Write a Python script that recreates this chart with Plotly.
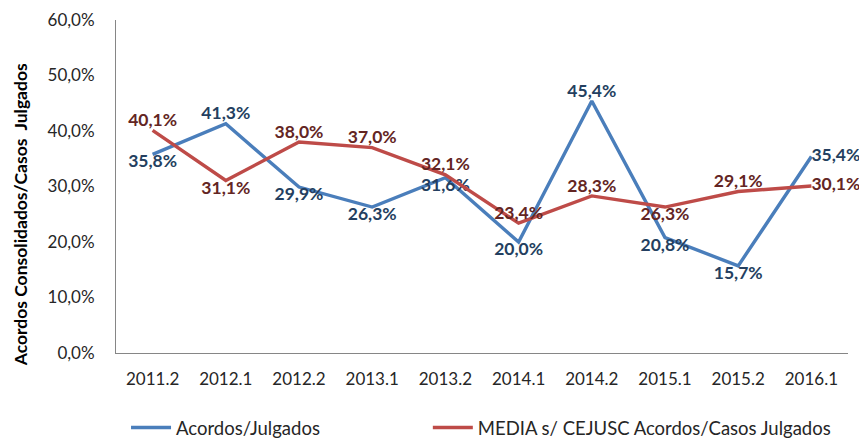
import plotly.graph_objects as go

categories = ["2011.2", "2012.1", "2012.2", "2013.1", "2013.2", "2014.1", "2014.2", "2015.1", "2015.2", "2016.1"]
acordos = [35.8, 41.3, 29.9, 26.3, 31.6, 20.0, 45.4, 20.8, 15.7, 35.4]
media = [40.1, 31.1, 38.0, 37.0, 32.1, 23.4, 28.3, 26.3, 29.1, 30.1]

pos_acordos = ["bottom center", "top center", "bottom center", "bottom center", "bottom center",
               "bottom center", "top center", "bottom center", "bottom center", "middle right"]
pos_media = ["top center", "bottom center", "top center", "top center", "top center",
             "top center", "top center", "bottom center", "top center", "middle right"]

def fmt(v):
    return f"{v:.1f}".replace(".", ",") + "%"

FONT = "Lato"

fig = go.Figure()
fig.add_trace(go.Scatter(
    x=categories, y=[v / 100 for v in acordos], name="Acordos/Julgados",
    mode="lines+text", text=[fmt(v) for v in acordos], textposition=pos_acordos,
    line=dict(color="#4A7EBB", width=3.4),
    textfont=dict(family=FONT, size=17.5, color="#243F60", weight="bold"),
    cliponaxis=False, legend="legend",
))
fig.add_trace(go.Scatter(
    x=categories, y=[v / 100 for v in media], name="MEDIA s/ CEJUSC Acordos/Casos Julgados",
    mode="lines+text", text=[fmt(v) for v in media], textposition=pos_media,
    line=dict(color="#BE4B48", width=3.4),
    textfont=dict(family=FONT, size=17.5, color="#632523", weight="bold"),
    cliponaxis=False, legend="legend2",
))

legend_font = dict(family=FONT, size=18.5, color="#262626")

fig.update_layout(
    width=859, height=430,
    margin=dict(l=108, r=19, t=12, b=85, autoexpand=False),
    paper_bgcolor="white", plot_bgcolor="white",
    separators=",.",
    font=dict(family=FONT, size=17, color="#262626"),
    showlegend=True,
    legend=dict(orientation="h", x=0.0137, xanchor="left", y=-0.225, yanchor="middle",
                font=legend_font, itemwidth=40, bgcolor="rgba(0,0,0,0)"),
    legend2=dict(orientation="h", x=0.426, xanchor="left", y=-0.225, yanchor="middle",
                 font=legend_font, itemwidth=40, bgcolor="rgba(0,0,0,0)"),
    xaxis=dict(type="category", range=[-0.5, 9.5], showline=True, linecolor="#868686",
               linewidth=1, showgrid=False, zeroline=False, ticks="",
               ticklabelstandoff=11, tickfont=dict(family=FONT, size=17, color="#262626")),
    yaxis=dict(range=[0, 0.6], dtick=0.1, tickformat=".1%", showline=True,
               linecolor="#868686", linewidth=1, showgrid=False, zeroline=False,
               ticks="", ticklabelstandoff=17,
               tickfont=dict(family=FONT, size=17, color="#262626")),
    annotations=[dict(text="Acordos Consolidados/Casos  Julgados", xref="paper", yref="paper",
                      x=-0.131, y=0.414, xanchor="center", yanchor="middle", textangle=-90,
                      showarrow=False,
                      font=dict(family=FONT, size=17.5, color="#000000", weight="bold"))],
)

fig.write_html("out.html")
